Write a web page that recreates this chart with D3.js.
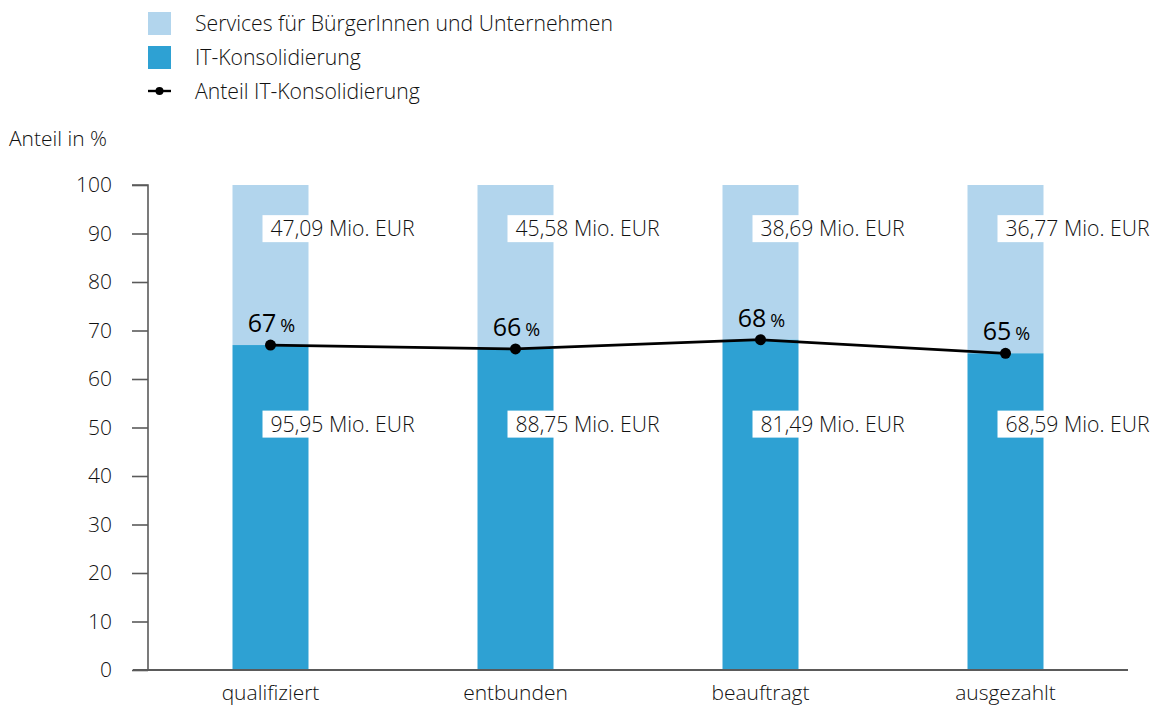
<!DOCTYPE html>
<html><head><meta charset="utf-8">
<script src="https://cdn.jsdelivr.net/npm/d3@7"></script>
<style>
html,body{margin:0;padding:0;background:#fff;}
svg{display:block;}
text{font-family:"Open Sans","Noto Sans",sans-serif;font-weight:300;fill:#111;}
</style></head>
<body><svg id="c" width="1152" height="706"></svg>
<script>
const categories = ["qualifiziert","entbunden","beauftragt","ausgezahlt"];
const itKonsolidierung = [95.95, 88.75, 81.49, 68.59];   // Mio. EUR
const services = [47.09, 45.58, 38.69, 36.77];           // Mio. EUR
const anteilIT = [67.0, 66.2, 68.1, 65.3];               // %
const anteilLabels = ["67","66","68","65"];
const yTicks = [0,10,20,30,40,50,60,70,80,90,100];
const legendLabels = ["Services für BürgerInnen und Unternehmen","IT-Konsolidierung","Anteil IT-Konsolidierung"];
const fmt = v => v.toFixed(2).replace(".", ",") + " Mio. EUR";

const colLight = "#b2d5ed", colDark = "#2ea1d3", axisCol = "#5a5a5a";
const svg = d3.select("#c");

const x = d3.scaleBand().domain(categories).range([148, 1128]);
const y = d3.scaleLinear().domain([0,100]).range([670,185]);
const barW = 76;
const cx = c => x(c) + x.bandwidth()/2;

// bars
const g = svg.append("g");
categories.forEach((c,i) => {
  const s = anteilIT[i];
  g.append("rect").attr("x", cx(c)-barW/2).attr("width", barW)
    .attr("y", y(100)).attr("height", y(s)-y(100)).attr("fill", colLight);
  g.append("rect").attr("x", cx(c)-barW/2).attr("width", barW)
    .attr("y", y(s)).attr("height", y(0)-y(s)).attr("fill", colDark);
});

// axes
const yAxis = d3.axisLeft(y).tickValues(yTicks).tickSize(16).tickPadding(20).tickFormat(d3.format("d"));
const ya = svg.append("g").attr("transform","translate(148,0)").call(yAxis);
ya.select(".domain").attr("stroke", axisCol).attr("stroke-width",1.6).attr("d","M-16,185H0V670");
ya.selectAll(".tick line").attr("stroke", axisCol).attr("stroke-width",1.6);
ya.selectAll(".tick text").attr("font-size",21).attr("fill","#111")
  .attr("font-family",'"Open Sans",sans-serif').attr("font-weight",300);

svg.append("line").attr("x1",133).attr("x2",1128).attr("y1",y(0)).attr("y2",y(0))
  .attr("stroke",axisCol).attr("stroke-width",1.8);

const xa = svg.append("g").attr("transform","translate(0,670)").call(d3.axisBottom(x).tickSize(0).tickPadding(15));
xa.select(".domain").remove();
xa.selectAll(".tick text").attr("font-size",21).attr("fill","#111")
  .attr("font-family",'"Open Sans",sans-serif').attr("font-weight",300);

// value labels with white boxes
function boxLabel(xl, yc, txt){
  const gg = svg.append("g");
  const r = gg.append("rect").attr("fill","#fff");
  const t = gg.append("text").attr("x", xl+8).attr("y", yc).attr("dy","0.35em")
    .attr("font-size",21.2).text(txt);
  const w = t.node().getComputedTextLength();
  r.attr("x", xl).attr("y", yc-13.5).attr("width", w+14).attr("height", 27);
}
categories.forEach((c,i) => {
  boxLabel(cx(c)-8, y(91), fmt(services[i]));
  boxLabel(cx(c)-8, y(50.7), fmt(itKonsolidierung[i]));
});

// line
const line = d3.line().x((d,i)=>cx(categories[i])).y(d=>y(d));
svg.append("path").datum(anteilIT).attr("d", line).attr("fill","none")
  .attr("stroke","#000").attr("stroke-width",2.8);
svg.selectAll("circle.pt").data(anteilIT).join("circle").attr("class","pt")
  .attr("cx",(d,i)=>cx(categories[i])).attr("cy",d=>y(d)).attr("r",5.5).attr("fill","#000");
anteilIT.forEach((d,i) => {
  const t = svg.append("text").attr("x", cx(categories[i])+1).attr("y", y(d)-13)
    .attr("text-anchor","middle").style("fill","#000").style("font-weight",400);
  t.append("tspan").attr("font-size",25).text(anteilLabels[i]);
  t.append("tspan").attr("font-size",18).attr("dx",4).text("%");
});

// y title
svg.append("text").attr("x",9).attr("y",146).attr("font-size",21).text("Anteil in %");

// legend
const lg = svg.append("g");
lg.append("rect").attr("x",148).attr("y",12).attr("width",23).attr("height",23).attr("fill",colLight);
lg.append("rect").attr("x",148).attr("y",46).attr("width",23).attr("height",23).attr("fill",colDark);
lg.append("line").attr("x1",148).attr("x2",171).attr("y1",91).attr("y2",91).attr("stroke","#000").attr("stroke-width",2.4);
lg.append("circle").attr("cx",159.5).attr("cy",91).attr("r",4).attr("fill","#000");
legendLabels.forEach((l,i) => {
  lg.append("text").attr("x",195).attr("y",23.5+i*34).attr("dy","0.35em").attr("font-size",21.2).text(l);
});
</script></body></html>
